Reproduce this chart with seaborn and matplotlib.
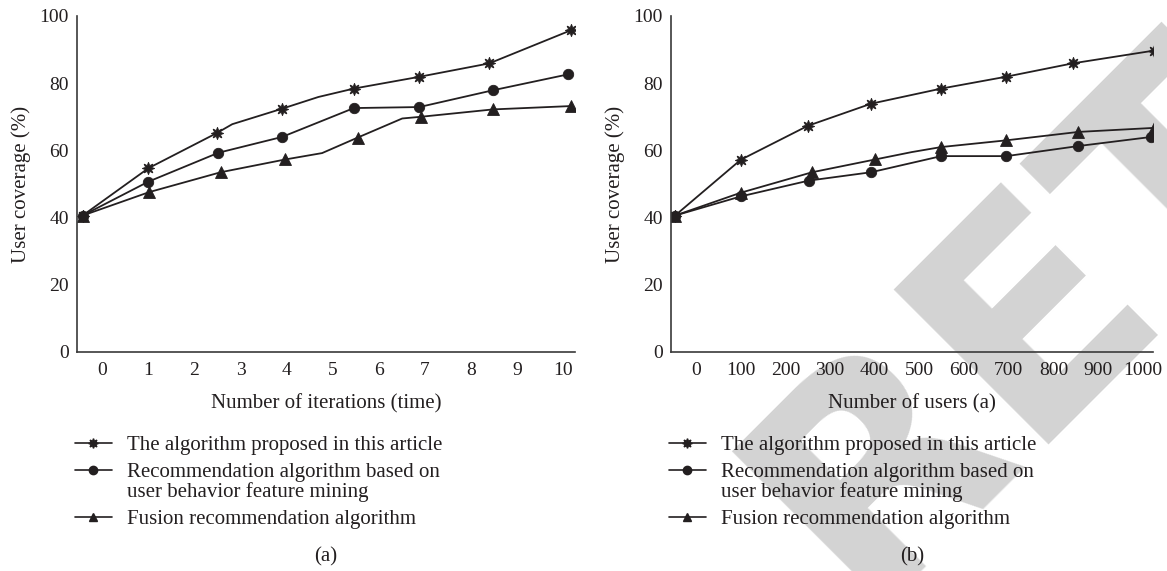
import matplotlib
matplotlib.use("Agg")
import matplotlib.pyplot as plt
from matplotlib.lines import Line2D
import seaborn as sns

# ----------------------------
# DATA
# ----------------------------
# panel (a): user coverage vs number of iterations
iter_star_x = [-0.43, 1.0, 2.49, 2.82, 3.9, 4.69, 5.46, 6.88, 8.4, 10.18]
iter_star_y = [40.6, 54.7, 65.2, 67.8, 72.4, 75.9, 78.4, 81.9, 85.9, 95.8]
iter_star_mk = [0, 1, 2, 4, 6, 7, 8, 9]

iter_circ_x = [-0.43, 1.0, 2.52, 3.9, 5.46, 6.88, 8.48, 10.1]
iter_circ_y = [40.6, 50.7, 59.3, 64.0, 72.6, 72.9, 77.9, 82.6]
iter_circ_mk = [0, 1, 2, 3, 4, 5, 6, 7]

iter_tri_x = [-0.43, 1.02, 2.57, 3.97, 4.77, 5.54, 6.51, 6.91, 8.48, 10.18]
iter_tri_y = [40.6, 47.6, 53.5, 57.3, 59.2, 63.8, 69.5, 70.0, 72.2, 73.2]
iter_tri_mk = [0, 1, 2, 3, 5, 7, 8, 9]

# panel (b): user coverage vs number of users
user_star_x = [-47, 100, 250, 392, 549, 693, 843, 1025]
user_star_y = [40.6, 57.2, 67.3, 73.9, 78.4, 81.9, 85.9, 89.7]
user_star_mk = [0, 1, 2, 3, 4, 5, 6, 7]

user_circ_x = [-47, 100, 252, 392, 549, 695, 856, 1019]
user_circ_y = [40.6, 46.3, 51.0, 53.5, 58.3, 58.3, 61.3, 64.0]
user_circ_mk = [0, 1, 2, 3, 4, 5, 6, 7]

user_tri_x = [-47, 100, 260, 401, 483, 549, 695, 856, 1025]
user_tri_y = [40.6, 47.4, 53.5, 57.3, 59.5, 61.0, 63.0, 65.5, 66.7]
user_tri_mk = [0, 1, 2, 3, 5, 6, 7, 8]

labels = [
    "The algorithm proposed in this article",
    "Recommendation algorithm based on\nuser behavior feature mining",
    "Fusion recommendation algorithm",
]
iter_ticks = list(range(0, 11))
user_ticks = list(range(0, 1001, 100))

# ----------------------------
# STYLE
# ----------------------------
sns.set_style("white")
plt.rcParams["font.family"] = ["Liberation Serif", "DejaVu Serif"]
INK = "#231f20"
STAR = (8, 1, 0)
markers = [STAR, "o", "^"]
msizes = [9, 7.5, 8]

fig = plt.figure(figsize=(11.67, 5.71), dpi=100)
W, H = 1167, 571

# watermark behind everything
fig.text(860 / W, -35 / H, "RETRACTED", rotation=45, rotation_mode="anchor",
         ha="left", va="baseline", fontsize=215, fontweight="bold",
         family="DejaVu Sans", color="#d3d3d3", zorder=-1)

ax1 = fig.add_axes([77 / W, 1 - 352 / H, (575 - 77) / W, (352 - 16) / H])
ax2 = fig.add_axes([671 / W, 1 - 352 / H, (1153 - 671) / W, (352 - 16) / H])

panels = [
    (ax1, [(iter_star_x, iter_star_y, iter_star_mk),
           (iter_circ_x, iter_circ_y, iter_circ_mk),
           (iter_tri_x, iter_tri_y, iter_tri_mk)],
     (-0.55, 10.26), iter_ticks, "Number of iterations (time)", "(a)"),
    (ax2, [(user_star_x, user_star_y, user_star_mk),
           (user_circ_x, user_circ_y, user_circ_mk),
           (user_tri_x, user_tri_y, user_tri_mk)],
     (-56, 1023), user_ticks, "Number of users (a)", "(b)"),
]

for ax, series, xlim, xticks, xlabel, tag in panels:
    ax.set_facecolor("none")
    for (xs, ys, mk), m, ms in zip(series, markers, msizes):
        sns.lineplot(x=xs, y=ys, ax=ax, sort=False, estimator=None,
                     color=INK, lw=1.3, marker=m, markersize=ms,
                     markevery=mk, markeredgewidth=0.6, markeredgecolor=INK)
    ax.set_xlim(*xlim)
    ax.set_ylim(0, 100)
    ax.set_xticks(xticks)
    ax.set_yticks(range(0, 101, 20))
    ax.set_yticks(range(10, 100, 20), minor=True)
    ax.tick_params(axis="both", which="both", direction="in", length=7,
                   width=1, color="#3a3a3a", labelsize=14, labelcolor=INK)
    ax.tick_params(axis="x", pad=7)
    ax.tick_params(axis="y", pad=6)
    sns.despine(ax=ax)
    for s in ["left", "bottom"]:
        ax.spines[s].set_color("#3a3a3a")
        ax.spines[s].set_linewidth(1.2)
    ax.set_xlabel(xlabel, fontsize=15, color=INK, labelpad=11)
    ax.set_ylabel("User coverage (%)", fontsize=15, color=INK, labelpad=6)

    # legend below the axes, handle aligned with the first text line
    x0 = ax.get_position().x0
    row_y = [443, 470, 517]
    for lab, m, y in zip(labels, markers, row_y):
        yf = 1 - y / H
        fig.add_artist(Line2D([x0 - 2 / W, x0 + 35 / W], [yf, yf], color=INK,
                              lw=1.2, transform=fig.transFigure))
        fig.add_artist(Line2D([x0 + 16 / W], [yf], color=INK, lw=0,
                              marker=m, markersize=6 if m != STAR else 7,
                              transform=fig.transFigure))
        fig.text(x0 + 50 / W, yf + 7 / H, lab, fontsize=15, color=INK,
                 va="top", ha="left", linespacing=1.0)
    cx = (ax.get_position().x0 + ax.get_position().x1) / 2
    fig.text(cx, 1 - 557 / H, tag, fontsize=15, color=INK,
             ha="center", va="center")

fig.savefig("out.png", dpi=100)
